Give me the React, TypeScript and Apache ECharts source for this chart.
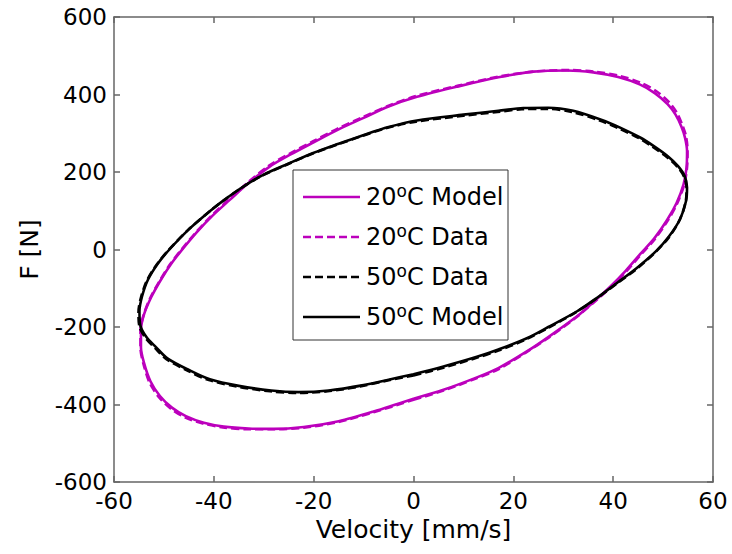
import React, { useEffect, useRef } from "react";
import * as echarts from "echarts";

// Velocity [mm/s], Force [N] pairs
const m20Model: number[][] = [
  [0, -385], [6, -362], [12.7, -330], [17, -306], [22.7, -263], [27, -226], [32.7, -173], [36, -136],
  [39.4, -96], [42.5, -55], [45.4, -12], [48.2, 28], [50.8, 76], [52.7, 120], [54.1, 168], [54.7, 212],
  [54.8, 254], [54.4, 288], [53.7, 316], [52.5, 348], [50.9, 375], [48.4, 403], [45.3, 426], [41, 445],
  [36, 457], [30.8, 462], [24, 459], [17.3, 445], [9, 421], [0.7, 394], [-5, 369], [-10.1, 339],
  [-15, 310], [-20.1, 276], [-24.5, 246], [-28.8, 214], [-33, 172], [-36.8, 128], [-40.2, 88], [-43.4, 45],
  [-46.2, 2], [-48.5, -36], [-50.6, -78], [-52.5, -122], [-54, -168], [-54.6, -208], [-54.6, -252],
  [-54, -292], [-52.7, -340], [-50.8, -378], [-48.4, -408], [-45.6, -430], [-42, -447], [-38, -457],
  [-33, -462], [-28, -463], [-22, -458], [-15, -443], [-8, -418], [0, -385],
];

const m20Data: number[][] = [
  [0, -388], [6, -364], [12.5, -333], [17, -309], [22.5, -266], [27, -228], [32.5, -176], [36, -138],
  [39.4, -99], [42.6, -57], [45.5, -14], [48.3, 26], [50.9, 74], [52.8, 118], [54.2, 166], [54.8, 212],
  [54.9, 256], [54.6, 292], [53.9, 320], [52.8, 352], [51.2, 380], [48.8, 407], [45.6, 430], [41.3, 448],
  [36.3, 459], [31, 463], [24, 459], [17, 446], [9, 423], [0.5, 396], [-5, 371], [-10.2, 341],
  [-15.2, 312], [-20.3, 278], [-24.7, 248], [-29, 216], [-33.2, 173], [-37, 129], [-40.4, 88], [-43.6, 44],
  [-46.4, 1], [-48.7, -37], [-50.8, -80], [-52.7, -124], [-54.1, -170], [-54.7, -210], [-54.7, -254],
  [-54.1, -295], [-52.9, -343], [-51, -381], [-48.6, -411], [-45.8, -433], [-42.2, -449], [-38.2, -459],
  [-33, -464], [-28, -464], [-22, -460], [-15, -445], [-8, -420], [0, -388],
];

const b50Data: number[][] = [
  [0, -325], [6, -305], [12.5, -280], [17, -261], [22.5, -232], [27, -202], [32.5, -162], [36.4, -129],
  [40.6, -89], [44.8, -49], [48.6, -5], [51.2, 32], [53.3, 76], [54.5, 122], [54.7, 158], [54.2, 188],
  [52.9, 213], [50.8, 238], [47.8, 266], [45.2, 287], [41.2, 312], [37.3, 333], [31.7, 355], [26.7, 363],
  [21.7, 362], [16.8, 355], [10, 345], [0.5, 330], [-5.2, 314], [-10.3, 293], [-15.2, 271], [-20.3, 247],
  [-25.2, 220], [-30.4, 190], [-34.8, 156], [-38.1, 126], [-40.7, 100], [-45.2, 50], [-49.1, -2], [-51.4, -38],
  [-53.4, -80], [-54.6, -124], [-55.1, -162], [-54.9, -199], [-53.7, -228], [-51.8, -254], [-49.5, -283],
  [-45.2, -313], [-41, -337], [-35.2, -354], [-28.7, -366], [-23.2, -370], [-17.2, -366], [-10.2, -352],
  [-5.2, -338], [0, -325],
];

const b50Model: number[][] = [
  [0, -322], [6, -302], [12.7, -277], [17, -258], [22.7, -229], [27, -200], [32.7, -160], [36.5, -127],
  [40.7, -87], [44.8, -47], [48.7, -3], [51.2, 34], [53.4, 78], [54.6, 125], [54.8, 160], [54.3, 190],
  [53, 215], [51, 240], [48, 268], [45.4, 289], [41.5, 314], [37.6, 335], [32, 358], [27, 366],
  [22, 365], [17, 358], [10, 348], [0.7, 333], [-5, 316], [-10.1, 295], [-15, 273], [-20.1, 249],
  [-25, 222], [-30.2, 192], [-34.6, 158], [-37.9, 128], [-40.5, 102], [-45, 52], [-48.9, 0], [-51.2, -36],
  [-53.2, -78], [-54.4, -122], [-54.9, -160], [-54.7, -197], [-53.5, -226], [-51.6, -252], [-49.3, -281],
  [-45, -311], [-40.8, -335], [-35, -352], [-28.5, -364], [-23, -368], [-17, -364], [-10, -350],
  [-5, -336], [0, -322],
];

const seriesNames = ["20{s|o}C Model", "20{s|o}C Data", "50{s|o}C Data", "50{s|o}C Model"];
const xLabel = "Velocity [mm/s]";
const yLabel = "F [N]";

const MAGENTA = "#BC00BC";
const FONT = "DejaVu Sans";

export default function App() {
  const ref = useRef<HTMLDivElement>(null);
  useEffect(() => {
    if (!ref.current) return;
    const chart = echarts.init(ref.current, undefined, { renderer: "svg" });
    const axisLineStyle = { color: "#666", width: 1.5 };
    const common = {
      type: "value" as const,
      splitLine: { show: false },
      axisLine: { show: true, onZero: false, lineStyle: axisLineStyle },
      axisTick: { show: true, inside: true, length: 6, lineStyle: axisLineStyle },
    };
    const seriesDefs = [
      { data: m20Model, color: MAGENTA, dashed: false },
      { data: m20Data, color: MAGENTA, dashed: true },
      { data: b50Data, color: "#000", dashed: true },
      { data: b50Model, color: "#000", dashed: false },
    ];
    const legendX = 293, legendY = 170, legendW = 215, legendH = 170;
    const itemY0 = 197, itemStep = 40;
    const legendChildren: any[] = [
      { type: "rect", shape: { x: legendX, y: legendY, width: legendW, height: legendH },
        style: { fill: "#fff", stroke: "#333", lineWidth: 1 } },
    ];
    seriesNames.forEach((nm, i) => {
      const y = itemY0 + i * itemStep;
      legendChildren.push({
        type: "line",
        shape: { x1: 303, y1: y, x2: 360, y2: y },
        style: { stroke: seriesDefs[i].color, lineWidth: 2.5, lineDash: seriesDefs[i].dashed ? [8, 4] : null },
      });
      legendChildren.push({
        type: "text",
        x: 366, y: y,
        style: {
          text: nm, fill: "#000", fontSize: 24, fontFamily: FONT, verticalAlign: "middle", align: "left",
          lineHeight: 30,
          rich: { s: { fontSize: 17, lineHeight: 17, verticalAlign: "top", fontFamily: FONT, fill: "#000" } },
        },
      });
    });
    chart.setOption({
      animation: false,
      backgroundColor: "#fff",
      grid: { left: 114, right: 19, top: 17, bottom: 72, containLabel: false },
      xAxis: [
        { ...common, position: "bottom", min: -60, max: 60, interval: 20,
          axisLabel: { fontSize: 23, fontFamily: FONT, color: "#000", margin: 7 },
          name: xLabel, nameLocation: "middle", nameGap: 32,
          nameTextStyle: { fontSize: 25, fontFamily: FONT, color: "#000" } },
        { ...common, position: "top", min: -60, max: 60, interval: 20, axisLabel: { show: false } },
      ],
      yAxis: [
        { ...common, position: "left", min: -600, max: 600, interval: 200,
          axisLabel: { fontSize: 23, fontFamily: FONT, color: "#000", margin: 7, padding: [0, 0, 3, 0] },
          name: yLabel, nameLocation: "middle", nameGap: 72, nameRotate: 90,
          nameTextStyle: { fontSize: 25, fontFamily: FONT, color: "#000" } },
        { ...common, position: "right", min: -600, max: 600, interval: 200, axisLabel: { show: false } },
      ],
      series: seriesDefs.map((s, i) => ({
        type: "line",
        name: seriesNames[i],
        data: s.data,
        xAxisIndex: 0,
        yAxisIndex: 0,
        showSymbol: false,
        symbol: "none",
        smooth: 0.3,
        lineStyle: { color: s.color, width: 2.6, type: s.dashed ? [8, 4] : "solid" },
        itemStyle: { color: s.color },
        z: 2 + i,
      })),
      graphic: [{ type: "group", z: 100, children: legendChildren }],
    });
    return () => chart.dispose();
  }, []);
  return <div ref={ref} style={{ position: "fixed", left: 0, top: 0, width: 732, height: 554 }} />;
}
